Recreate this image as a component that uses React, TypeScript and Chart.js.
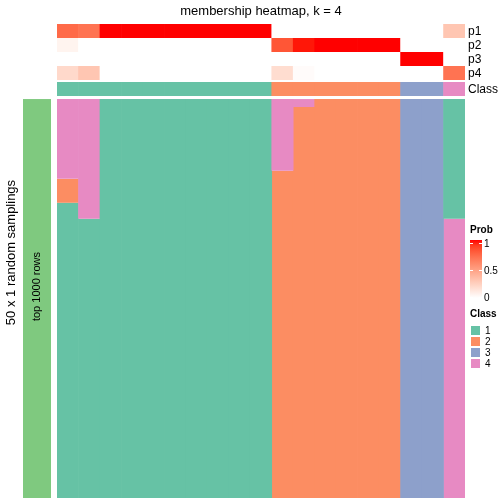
import React, { useEffect, useRef } from "react";
import { Chart, registerables } from "chart.js";

Chart.register(...registerables);

// ---------------- data ----------------
const TITLE = "membership heatmap, k = 4";
const ROW_TITLE = "50 x 1 random samplings";
const SUBSET_LABEL = "top 1000 rows";
const N_SAMPLINGS = 50;

const samples = [
  "c1", "c2", "c3", "c4", "c5", "c6", "c7", "c8", "c9", "c10",
  "c11", "c12", "c13", "c14", "c15", "c16", "c17", "c18", "c19",
];
const classOf = [1, 1, 1, 1, 1, 1, 1, 1, 1, 1, 2, 2, 2, 2, 2, 2, 3, 3, 4];
const p1 = [0.74, 0.7, 1, 1, 1, 1, 1, 1, 1, 1, 0, 0, 0, 0, 0, 0, 0, 0, 0.3];
const p2 = [0.06, 0, 0, 0, 0, 0, 0, 0, 0, 0, 0.82, 0.98, 1, 1, 1, 1, 0, 0, 0];
const p3 = [0, 0, 0, 0, 0, 0, 0, 0, 0, 0, 0, 0, 0, 0, 0, 0, 1, 1, 0];
const p4 = [0.2, 0.3, 0, 0, 0, 0, 0, 0, 0, 0, 0.18, 0.02, 0, 0, 0, 0, 0, 0, 0.7];
const annoNames = ["p1", "p2", "p3", "p4"];

// sampling results per column, runs from top: [class, number of samplings]
const samplingRuns: number[][][] = [
  [[4, 10], [2, 3], [1, 37]],
  [[4, 15], [1, 35]],
  [[1, 50]], [[1, 50]], [[1, 50]], [[1, 50]],
  [[1, 50]], [[1, 50]], [[1, 50]], [[1, 50]],
  [[4, 9], [2, 41]],
  [[4, 1], [2, 49]],
  [[2, 50]], [[2, 50]], [[2, 50]], [[2, 50]],
  [[3, 50]], [[3, 50]],
  [[1, 15], [4, 35]],
];

const classLevels = [1, 2, 3, 4];
const probTicks = [0, 0.5, 1];

// ---------------- styles ----------------
const CLASS_COLORS: Record<number, string> = {
  1: "#66C2A5",
  2: "#FC8D62",
  3: "#8DA0CB",
  4: "#E78AC3",
};
const SUBSET_COLOR = "#7FC97F";
const FONT = '"Liberation Sans", Arial, Helvetica, sans-serif';

// layout in units of one sampling row
const ANNO_ROW = 1.755;
const ANNO_GAP = 0.25;
const BODY_GAP = 0.38;
const ANNO_TOTAL = 4 * ANNO_ROW + ANNO_GAP + ANNO_ROW + BODY_GAP;
const annoTop = (k: number) => -ANNO_TOTAL + k * ANNO_ROW;
const classTop = -ANNO_TOTAL + 4 * ANNO_ROW + ANNO_GAP;

// ---------------- colour ramp white -> red in LAB ----------------
function srgbToLin(c: number) {
  c /= 255;
  return c <= 0.04045 ? c / 12.92 : Math.pow((c + 0.055) / 1.055, 2.4);
}
function linToSrgb(c: number) {
  const v = c <= 0.0031308 ? 12.92 * c : 1.055 * Math.pow(c, 1 / 2.4) - 0.055;
  return Math.max(0, Math.min(255, Math.round(v * 255)));
}
const WX = 0.95047, WY = 1.0, WZ = 1.08883;
function rgbToLab([r, g, b]: number[]) {
  const R = srgbToLin(r), G = srgbToLin(g), B = srgbToLin(b);
  const X = (R * 0.4124 + G * 0.3576 + B * 0.1805) / WX;
  const Y = (R * 0.2126 + G * 0.7152 + B * 0.0722) / WY;
  const Z = (R * 0.0193 + G * 0.1192 + B * 0.9505) / WZ;
  const f = (t: number) => (t > 0.008856 ? Math.cbrt(t) : 7.787 * t + 16 / 116);
  const fx = f(X), fy = f(Y), fz = f(Z);
  return [116 * fy - 16, 500 * (fx - fy), 200 * (fy - fz)];
}
function labToRgb([L, a, b]: number[]) {
  const fy = (L + 16) / 116;
  const fx = fy + a / 500;
  const fz = fy - b / 200;
  const inv = (t: number) => (t * t * t > 0.008856 ? t * t * t : (t - 16 / 116) / 7.787);
  const X = inv(fx) * WX, Y = inv(fy) * WY, Z = inv(fz) * WZ;
  const R = X * 3.2406 + Y * -1.5372 + Z * -0.4986;
  const G = X * -0.9689 + Y * 1.8758 + Z * 0.0415;
  const B = X * 0.0557 + Y * -0.204 + Z * 1.057;
  return [linToSrgb(R), linToSrgb(G), linToSrgb(B)];
}
const LAB_WHITE = rgbToLab([255, 255, 255]);
const LAB_RED = rgbToLab([255, 0, 0]);
function probColor(v: number) {
  const lab = LAB_WHITE.map((w, i) => w + (LAB_RED[i] - w) * v);
  const [r, g, b] = labToRgb(lab);
  return `rgb(${r},${g},${b})`;
}

// ---------------- datasets ----------------
const barOpts = {
  type: "bar" as const,
  borderWidth: 0,
  grouped: false,
  barPercentage: 1,
  categoryPercentage: 1.03,
};

function buildDatasets() {
  const ds: any[] = [];
  [p1, p2, p3, p4].forEach((vals, k) => {
    const t = annoTop(k);
    ds.push({
      ...barOpts,
      label: annoNames[k],
      data: vals.map(() => [t, t + ANNO_ROW]),
      backgroundColor: vals.map(probColor),
    });
  });
  ds.push({
    ...barOpts,
    label: "Class",
    data: classOf.map(() => [classTop, classTop + ANNO_ROW]),
    backgroundColor: classOf.map((c) => CLASS_COLORS[c]),
  });
  const maxRuns = Math.max(...samplingRuns.map((r) => r.length));
  for (let s = 0; s < maxRuns; s++) {
    ds.push({
      ...barOpts,
      label: `run${s}`,
      data: samplingRuns.map((runs) => {
        if (s >= runs.length) return null;
        let start = 0;
        for (let i = 0; i < s; i++) start += runs[i][1];
        return [start, start + runs[s][1]];
      }),
      backgroundColor: samplingRuns.map((runs) =>
        s < runs.length ? CLASS_COLORS[runs[s][0]] : "rgba(0,0,0,0)"
      ),
    });
  }
  return ds;
}

const decorPlugin = {
  id: "decor",
  afterDraw(chart: any) {
    const { ctx, chartArea: a } = chart;
    const y = chart.scales.y;
    ctx.save();
    // title
    ctx.fillStyle = "#000";
    ctx.font = `13px ${FONT}`;
    ctx.textAlign = "center";
    ctx.textBaseline = "alphabetic";
    ctx.fillText(TITLE, (a.left + a.right) / 2, 15);

    // annotation names on the right
    ctx.font = `12px ${FONT}`;
    ctx.textAlign = "left";
    ctx.textBaseline = "middle";
    annoNames.forEach((n, k) => {
      const c = (y.getPixelForValue(annoTop(k)) + y.getPixelForValue(annoTop(k) + ANNO_ROW)) / 2;
      ctx.fillText(n, a.right + 3, c + 0.5);
    });
    {
      const c = (y.getPixelForValue(classTop) + y.getPixelForValue(classTop + ANNO_ROW)) / 2;
      ctx.fillText("Class", a.right + 3, c + 0.5);
    }

    // left subset bar
    const b0 = y.getPixelForValue(0);
    const b1 = y.getPixelForValue(N_SAMPLINGS);
    ctx.fillStyle = SUBSET_COLOR;
    ctx.fillRect(a.left - 34, b0, 28, b1 - b0);
    ctx.fillStyle = "#000";
    ctx.save();
    ctx.translate(a.left - 20, (b0 + b1) / 2 - 12);
    ctx.rotate(-Math.PI / 2);
    ctx.font = `11px ${FONT}`;
    ctx.textAlign = "center";
    ctx.textBaseline = "middle";
    ctx.fillText(SUBSET_LABEL, 0, 0);
    ctx.restore();

    // row title
    ctx.save();
    ctx.translate(15, (b0 + b1) / 2 - 46);
    ctx.rotate(-Math.PI / 2);
    ctx.font = `13px ${FONT}`;
    ctx.textAlign = "center";
    ctx.textBaseline = "alphabetic";
    ctx.fillText(ROW_TITLE, 0, 0);
    ctx.restore();

    // Prob legend
    const lx = a.right + 5;
    ctx.font = `bold 10px ${FONT}`;
    ctx.textAlign = "left";
    ctx.textBaseline = "alphabetic";
    ctx.fillText("Prob", lx, 233);
    const gTop = 240, gBot = 298, gW = 12;
    const grad = ctx.createLinearGradient(0, gBot, 0, gTop);
    for (let i = 0; i <= 10; i++) grad.addColorStop(i / 10, probColor(i / 10));
    ctx.fillStyle = grad;
    ctx.fillRect(lx, gTop, gW, gBot - gTop);
    const tickY = (v: number) => gBot - 1 - v * (gBot - gTop - 4);
    ctx.strokeStyle = "#fff";
    ctx.lineWidth = 1;
    probTicks.forEach((v) => {
      const ty = Math.round(tickY(v)) + 0.5;
      ctx.beginPath();
      ctx.moveTo(lx, ty);
      ctx.lineTo(lx + 3, ty);
      ctx.moveTo(lx + gW - 3, ty);
      ctx.lineTo(lx + gW, ty);
      ctx.stroke();
    });
    ctx.fillStyle = "#000";
    ctx.font = `10px ${FONT}`;
    ctx.textBaseline = "middle";
    probTicks.forEach((v) => {
      ctx.fillText(String(v), lx + gW + 2, tickY(v) + 1);
    });

    // Class legend
    ctx.font = `bold 10px ${FONT}`;
    ctx.textBaseline = "alphabetic";
    ctx.fillText("Class", lx, 317);
    classLevels.forEach((c, i) => {
      const sy = 325 + i * 11;
      ctx.fillStyle = CLASS_COLORS[c];
      ctx.fillRect(lx, sy, 11, 11);
      ctx.strokeStyle = "#fff";
      ctx.strokeRect(lx + 0.5, sy + 0.5, 10, 10);
      ctx.fillStyle = "#000";
      ctx.font = `10px ${FONT}`;
      ctx.textBaseline = "middle";
      ctx.fillText(String(c), lx + 15, sy + 6);
    });
    ctx.restore();
  },
};

export default function App() {
  const ref = useRef<HTMLCanvasElement | null>(null);
  useEffect(() => {
    if (!ref.current) return;
    const chart = new Chart(ref.current, {
      type: "bar",
      data: { labels: samples, datasets: buildDatasets() },
      options: {
        animation: false,
        responsive: false,
        maintainAspectRatio: false,
        events: [],
        layout: { padding: { left: 57, right: 39, top: 24, bottom: 6 } },
        plugins: { legend: { display: false }, tooltip: { enabled: false }, title: { display: false } },
        scales: {
          x: { type: "category", display: false, offset: true, grid: { display: false } },
          y: {
            type: "linear",
            display: false,
            reverse: true,
            min: -ANNO_TOTAL,
            max: N_SAMPLINGS,
            grid: { display: false },
          },
        },
      },
      plugins: [decorPlugin],
    });
    return () => chart.destroy();
  }, []);
  return (
    <div style={{ position: "fixed", left: 0, top: 0, width: 504, height: 504, background: "#fff" }}>
      <canvas ref={ref} width={504} height={504} style={{ width: 504, height: 504, display: "block" }} />
    </div>
  );
}
